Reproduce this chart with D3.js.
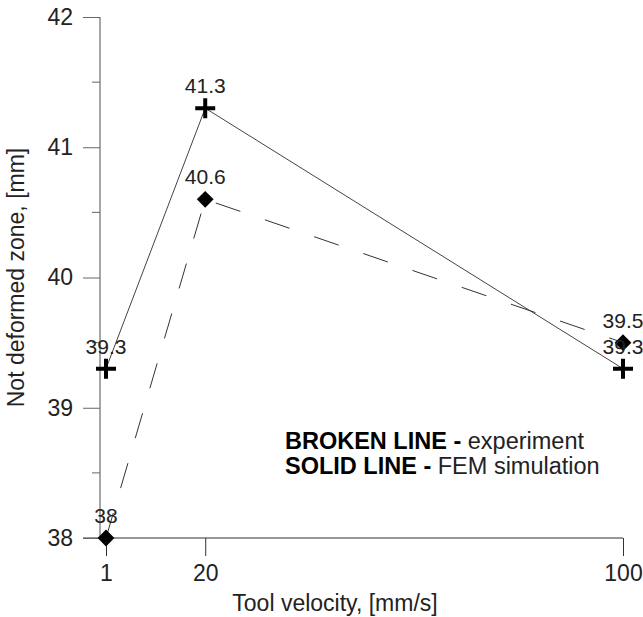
<!DOCTYPE html>
<html>
<head>
<meta charset="utf-8">
<script src="https://cdn.jsdelivr.net/npm/d3@7"></script>
<style>
  body { margin: 0; background: #fff; }
  text { font-family: "Liberation Sans", Arial, sans-serif; fill: #222; }
</style>
</head>
<body>
<svg></svg>
<script>
const width = 643;
const height = 617;

// data
const velocities = [1, 20, 100];
const femValues = [39.3, 41.3, 39.3];       // solid line, crosses
const experimentValues = [38, 40.6, 39.5];  // broken line, diamonds
const xTicks = [1, 20, 100];
const yTicks = [38, 39, 40, 41, 42];
const yMinorTicks = [38.5, 39.5, 40.5, 41.5];

const svg = d3.select('svg')
  .attr('width', width)
  .attr('height', height);

const x = d3.scaleLinear().domain([1, 100]).range([106, 623]);
const y = d3.scaleLinear().domain([38, 42]).range([538, 17]);

// x axis (dark line, ticks downwards)
const xAxis = svg.append('g')
  .attr('transform', 'translate(0,' + y(38) + ')')
  .call(d3.axisBottom(x).tickValues(xTicks).tickSize(18).tickPadding(9).tickFormat(d3.format('d')));
xAxis.select('.domain').attr('d', 'M83,0H' + x(100)).attr('stroke', '#333');
xAxis.selectAll('.tick line').attr('stroke', '#333');
xAxis.selectAll('.tick text').attr('font-size', 23).attr('fill', '#222');

// y axis (grey line at x=100)
const yAxis = svg.append('g')
  .attr('transform', 'translate(100,0)')
  .call(d3.axisLeft(y).tickValues(yTicks).tickSize(17).tickPadding(10).tickFormat(d3.format('d')));
yAxis.select('.domain').attr('d', 'M0,' + y(42) + 'V' + y(38)).attr('stroke', '#888').attr('stroke-width', 1.5);
yAxis.selectAll('.tick line').attr('stroke', '#666');
yAxis.selectAll('.tick text').attr('font-size', 23).attr('fill', '#222');

svg.append('g')
  .selectAll('line')
  .data(yMinorTicks)
  .enter()
  .append('line')
  .attr('x1', 92)
  .attr('x2', 100)
  .attr('y1', d => y(d))
  .attr('y2', d => y(d))
  .attr('stroke', '#666');

// axis titles
svg.append('text')
  .attr('x', 335)
  .attr('y', 611)
  .attr('text-anchor', 'middle')
  .attr('font-size', 23)
  .text('Tool velocity, [mm/s]');

svg.append('text')
  .attr('transform', 'translate(24,' + y(40) + ') rotate(-90)')
  .attr('text-anchor', 'middle')
  .attr('font-size', 23)
  .text('Not deformed zone, [mm]');

const fem = velocities.map((v, i) => ({ x: v, y: femValues[i] }));
const experiment = velocities.map((v, i) => ({ x: v, y: experimentValues[i] }));

const line = d3.line()
  .x(d => x(d.x))
  .y(d => y(d.y));

svg.append('path')
  .datum(fem)
  .attr('d', line)
  .attr('fill', 'none')
  .attr('stroke', '#444')
  .attr('stroke-width', 1);

svg.append('path')
  .datum(experiment)
  .attr('d', line)
  .attr('fill', 'none')
  .attr('stroke', '#333')
  .attr('stroke-width', 1)
  .attr('stroke-dasharray', '26,26');

// markers
svg.append('g')
  .selectAll('path')
  .data(experiment)
  .enter()
  .append('path')
  .attr('d', d3.symbol().type(d3.symbolDiamond2).size(180))
  .attr('transform', d => 'translate(' + x(d.x) + ',' + y(d.y) + ')')
  .attr('fill', '#000');

svg.append('g')
  .selectAll('path')
  .data(fem)
  .enter()
  .append('path')
  .attr('d', 'M-10,0H10M0,-10V10')
  .attr('transform', d => 'translate(' + x(d.x) + ',' + y(d.y) + ')')
  .attr('stroke', '#000')
  .attr('stroke-width', 4);

// value labels
const labels = fem.concat(experiment);
svg.append('g')
  .selectAll('text')
  .data(labels)
  .enter()
  .append('text')
  .attr('x', d => x(d.x))
  .attr('y', d => y(d.y) - 15)
  .attr('text-anchor', 'middle')
  .attr('font-size', 21)
  .text(d => d.y);

// note
const note = svg.append('text')
  .attr('x', 285)
  .attr('y', 449)
  .attr('font-size', 23.5);
note.append('tspan').attr('font-weight', 'bold').attr('fill', '#000').text('BROKEN LINE - ');
note.append('tspan').text('experiment');

const note2 = svg.append('text')
  .attr('x', 285)
  .attr('y', 474)
  .attr('font-size', 23.5);
note2.append('tspan').attr('font-weight', 'bold').attr('fill', '#000').text('SOLID LINE - ');
note2.append('tspan').text('FEM simulation');
</script>
</body>
</html>
